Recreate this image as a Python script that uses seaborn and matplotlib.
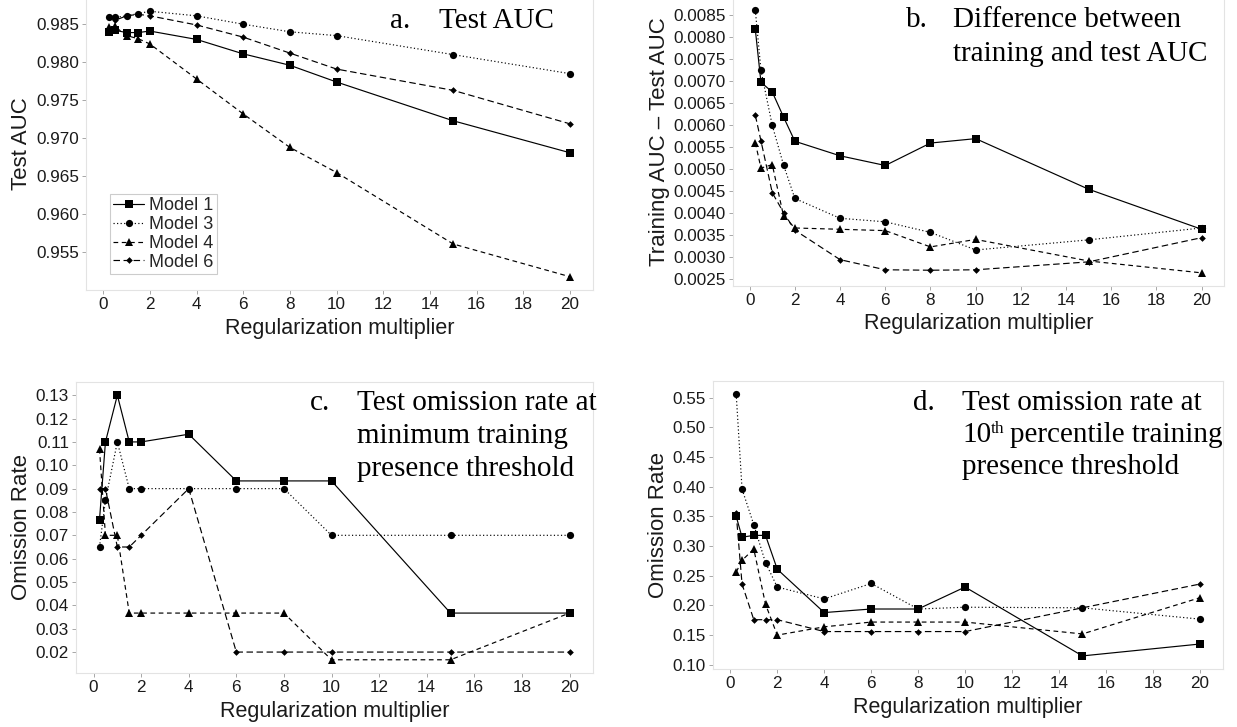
import numpy as np
import pandas as pd
import matplotlib
matplotlib.use("Agg")
import matplotlib.pyplot as plt
import seaborn as sns

sns.set_theme(style="white")
plt.rcParams['font.family'] = ['Liberation Sans', 'DejaVu Sans']

# ---------------- data ----------------
reg_mult = [0.25, 0.5, 1, 1.5, 2, 4, 6, 8, 10, 15, 20]
models = ["Model 1", "Model 3", "Model 4", "Model 6"]

# a. Test AUC
auc_m1 = [0.9840, 0.9842, 0.9839, 0.9839, 0.9841, 0.9830, 0.9811, 0.9796, 0.9774, 0.9723, 0.9681]
auc_m3 = [0.9859, 0.9859, 0.9861, 0.9864, 0.9867, 0.9861, 0.9850, 0.9840, 0.9835, 0.9810, 0.9785]
auc_m4 = [0.9846, 0.9847, 0.9835, 0.9831, 0.9824, 0.9778, 0.9732, 0.9688, 0.9655, 0.9561, 0.9518]
auc_m6 = [0.9859, 0.9855, 0.9861, 0.9863, 0.9861, 0.9849, 0.9833, 0.9812, 0.9791, 0.9763, 0.9719]

# b. Training AUC - Test AUC
diff_m1 = [0.00816, 0.00696, 0.00674, 0.00617, 0.00562, 0.00529, 0.00507, 0.00558, 0.00568, 0.00453, 0.00362]
diff_m3 = [0.00860, 0.00723, 0.00598, 0.00508, 0.00432, 0.00387, 0.00379, 0.00355, 0.00315, 0.00338, 0.00365]
diff_m4 = [0.00559, 0.00501, 0.00509, 0.00392, 0.00365, 0.00362, 0.00359, 0.00322, 0.00339, 0.00290, 0.00263]
diff_m6 = [0.00621, 0.00563, 0.00445, 0.00400, 0.00360, 0.00293, 0.00270, 0.00269, 0.00270, 0.00288, 0.00343]

# c. Omission rate, minimum training presence threshold
omin_m1 = [0.0767, 0.110, 0.130, 0.110, 0.110, 0.1133, 0.0933, 0.0933, 0.0933, 0.0367, 0.0367]
omin_m3 = [0.065, 0.085, 0.110, 0.090, 0.090, 0.090, 0.090, 0.090, 0.070, 0.070, 0.070]
omin_m4 = [0.107, 0.070, 0.070, 0.0367, 0.0367, 0.0367, 0.0367, 0.0367, 0.0167, 0.0167, 0.0367]
omin_m6 = [0.090, 0.090, 0.065, 0.065, 0.070, 0.090, 0.020, 0.020, 0.020, 0.020, 0.020]

# d. Omission rate, 10th percentile training presence threshold
o10_m1 = [0.350, 0.315, 0.318, 0.318, 0.261, 0.188, 0.194, 0.194, 0.231, 0.115, 0.135]
o10_m3 = [0.556, 0.396, 0.336, 0.272, 0.231, 0.211, 0.237, 0.194, 0.197, 0.196, 0.177]
o10_m4 = [0.256, 0.276, 0.295, 0.202, 0.150, 0.164, 0.172, 0.172, 0.172, 0.152, 0.213]
o10_m6 = [0.355, 0.236, 0.176, 0.176, 0.176, 0.156, 0.156, 0.156, 0.156, 0.196, 0.236]

x_ticks = [0, 2, 4, 6, 8, 10, 12, 14, 16, 18, 20]

panels = [
    ("a", [auc_m1, auc_m3, auc_m4, auc_m6], "Test AUC",
     [0.955, 0.960, 0.965, 0.970, 0.975, 0.980, 0.985], "{:.3f}"),
    ("b", [diff_m1, diff_m3, diff_m4, diff_m6], "Training AUC \u2013 Test AUC",
     [0.0025 + 0.0005 * i for i in range(13)], "{:.4f}"),
    ("c", [omin_m1, omin_m3, omin_m4, omin_m6], "Omission Rate",
     [0.02 + 0.01 * i for i in range(12)], "{:.2f}"),
    ("d", [o10_m1, o10_m3, o10_m4, o10_m6], "Omission Rate",
     [0.10 + 0.05 * i for i in range(10)], "{:.2f}"),
]

# ---------------- style ----------------
W, H = 1237, 727
fig = plt.figure(figsize=(W / 100, H / 100), dpi=100)

# axes boxes in pixels: left, top, right, bottom
boxes = {
    "a": (86, -2, 593, 290),
    "b": (733, -3, 1224, 286),
    "c": (76, 382, 593, 673),
    "d": (713, 381, 1223, 669),
}
styles = {
    "Model 1": dict(linestyle="-", marker="s", markersize=5.4),
    "Model 3": dict(linestyle=(0, (1, 2)), marker="o", markersize=5.2),
    "Model 4": dict(linestyle=(0, (4, 3)), marker="^", markersize=6.0),
    "Model 6": dict(linestyle=(0, (5.5, 3)), marker="D", markersize=3.4),
}

frame_col = "#e3e3e3"
for key, series, ylab, yticks, fmt in panels:
    l, t, r, b = boxes[key]
    ax = fig.add_axes([l / W, 1 - b / H, (r - l) / W, (b - t) / H])
    rows = []
    for m, vals in zip(models, series):
        for xv, yv in zip(reg_mult, vals):
            rows.append((m, xv, yv))
    df = pd.DataFrame(rows, columns=["model", "mult", "value"])
    for m in models:
        sub = df[df["model"] == m]
        sns.lineplot(data=sub, x="mult", y="value", ax=ax, color="black",
                     linewidth=0.85, errorbar=None, label=m,
                     markeredgewidth=0, **styles[m])
    # ggplot-like 5% expansion
    xr = (min(reg_mult), max(reg_mult))
    dx = (xr[1] - xr[0]) * 0.05
    ax.set_xlim(xr[0] - dx, xr[1] + dx)
    allv = np.concatenate([np.array(s) for s in series])
    dy = (allv.max() - allv.min()) * 0.05
    ax.set_ylim(allv.min() - dy, allv.max() + dy)
    ax.set_xticks(x_ticks)
    ax.set_xticklabels([str(v) for v in x_ticks])
    ax.set_yticks(yticks)
    ax.set_yticklabels([fmt.format(v) for v in yticks])
    ax.tick_params(axis="both", which="major", length=3, width=0.6,
                   color="#999999", labelsize=12.3, labelcolor="#1a1a1a",
                   pad=2, bottom=True, left=True)
    for s in ax.spines.values():
        s.set_color(frame_col)
        s.set_linewidth(0.8)
    ax.set_xlabel("Regularization multiplier", fontsize=15.5, color="#1a1a1a", labelpad=4)
    ax.set_ylabel(ylab, fontsize=16, color="#1a1a1a", labelpad=3)
    ax.grid(False)
    if key == "a":
        leg = ax.legend(loc="upper left", bbox_to_anchor=(0.047, 0.33),
                        fontsize=13, frameon=True, fancybox=False,
                        edgecolor="#cccccc", framealpha=1,
                        handlelength=1.7, handletextpad=0.25,
                        labelspacing=0.1, borderpad=0.2, borderaxespad=0)
        leg.get_frame().set_linewidth(0.8)
    else:
        lg = ax.get_legend()
        if lg is not None:
            lg.remove()

# ---------------- panel titles ----------------
serif = dict(family="Liberation Serif", fontsize=21, color="black", va="baseline", ha="left")

def ptext(x, y, s, **kw):
    opts = dict(serif)
    opts.update(kw)
    return fig.text(x / W, 1 - y / H, s, **opts)

ptext(390, 28, "a.")
ptext(439, 28, "Test AUC")

ptext(906, 27, "b.")
ptext(953, 27, "Difference between")
ptext(953, 61, "training and test AUC")

ptext(310, 410, "c.")
ptext(357, 410, "Test omission rate at")
ptext(357, 443, "minimum training")
ptext(357, 476, "presence threshold")

ptext(913, 410, "d.")
ptext(962, 410, "Test omission rate at")
renderer = fig.canvas.get_renderer()
t10 = ptext(962, 442, "10")
x_end = t10.get_window_extent(renderer).x1
tth = ptext(x_end, 442 - 9, "th", fontsize=12.5)
x_end2 = tth.get_window_extent(renderer).x1
ptext(x_end2 + 5, 442, "percentile training")
ptext(962, 474, "presence threshold")

fig.savefig("out.png", dpi=100)
